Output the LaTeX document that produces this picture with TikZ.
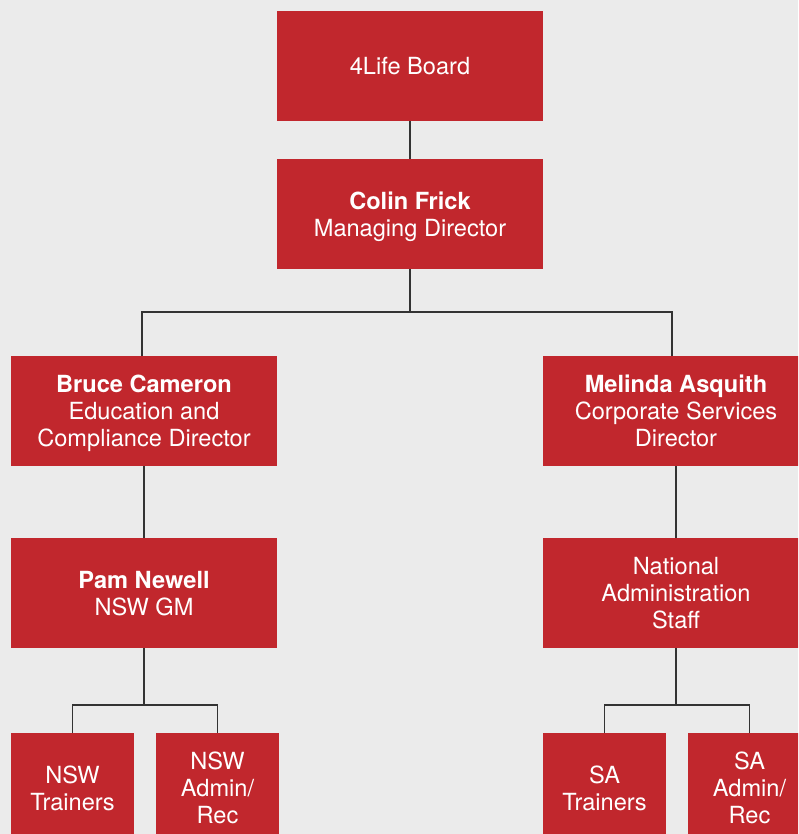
\documentclass[tikz,border=0pt]{standalone}
\usepackage{fontspec}
\setmainfont{TeX Gyre Heros}
\definecolor{boxred}{HTML}{C1272D}
\definecolor{bggray}{HTML}{EBEBEB}
\definecolor{linegray}{HTML}{333333}
\tikzset{
  orgbox/.style={fill=boxred, text=white, minimum width=266pt, minimum height=110pt,
    inner sep=0pt, align=center, text depth=0pt, font=\fontsize{23.6}{27}\selectfont},
  smallbox/.style={orgbox, minimum width=123pt},
  link/.style={draw=linegray, line width=1.3pt}
}

\begin{document}
\begin{tikzpicture}[x=1pt,y=-1pt]
  \useasboundingbox (0,0) rectangle (798,834);
  \clip (0,0) rectangle (798,834);
  \fill[bggray] (0,0) rectangle (798,834);
  % top of the chart
  \node[orgbox] (board) at (410,66) {4Life Board};
  \node[orgbox] (colin) at (410,214) {\textbf{Colin Frick}\\Managing Director};
  % directors
  \node[orgbox] (bruce) at (144,411) {\textbf{Bruce Cameron}\\Education and\\Compliance Director};
  \node[orgbox] (melinda) at (676,411) {\textbf{Melinda Asquith}\\Corporate Services\\Director};
  \node[orgbox] (pam) at (144,593) {\textbf{Pam Newell}\\NSW GM};
  \node[orgbox] (natadmin) at (676,593) {National\\Administration\\Staff};
  % bottom row
  \node[smallbox] (nswtrain) at (72.5,788) {NSW\\Trainers};
  \node[smallbox] (nswadmin) at (217.5,788) {NSW\\Admin/\\Rec};
  \node[smallbox] (satrain) at (604.5,788) {SA\\Trainers};
  \node[smallbox] (saadmin) at (749.5,788) {SA\\Admin/\\Rec};
  % connectors
  \coordinate (dirbar) at (410,312);
  \coordinate (nswbar) at (144,705);
  \coordinate (sabar) at (676,705);
  \draw[link] (board) -- (colin);
  \draw[link] (colin) -- (dirbar);
  \draw[link] ([xshift=-2pt]bruce.north) |- (dirbar) -| ([xshift=-4pt]melinda.north);
  \draw[link] (bruce) -- (pam);
  \draw[link] (melinda) -- (natadmin);
  \draw[link] (pam) -- (nswbar);
  \draw[link] (nswtrain.north) |- (nswbar) -| (nswadmin.north);
  \draw[link] (natadmin) -- (sabar);
  \draw[link] (satrain.north) |- (sabar) -| (saadmin.north);
\end{tikzpicture}
\end{document}
